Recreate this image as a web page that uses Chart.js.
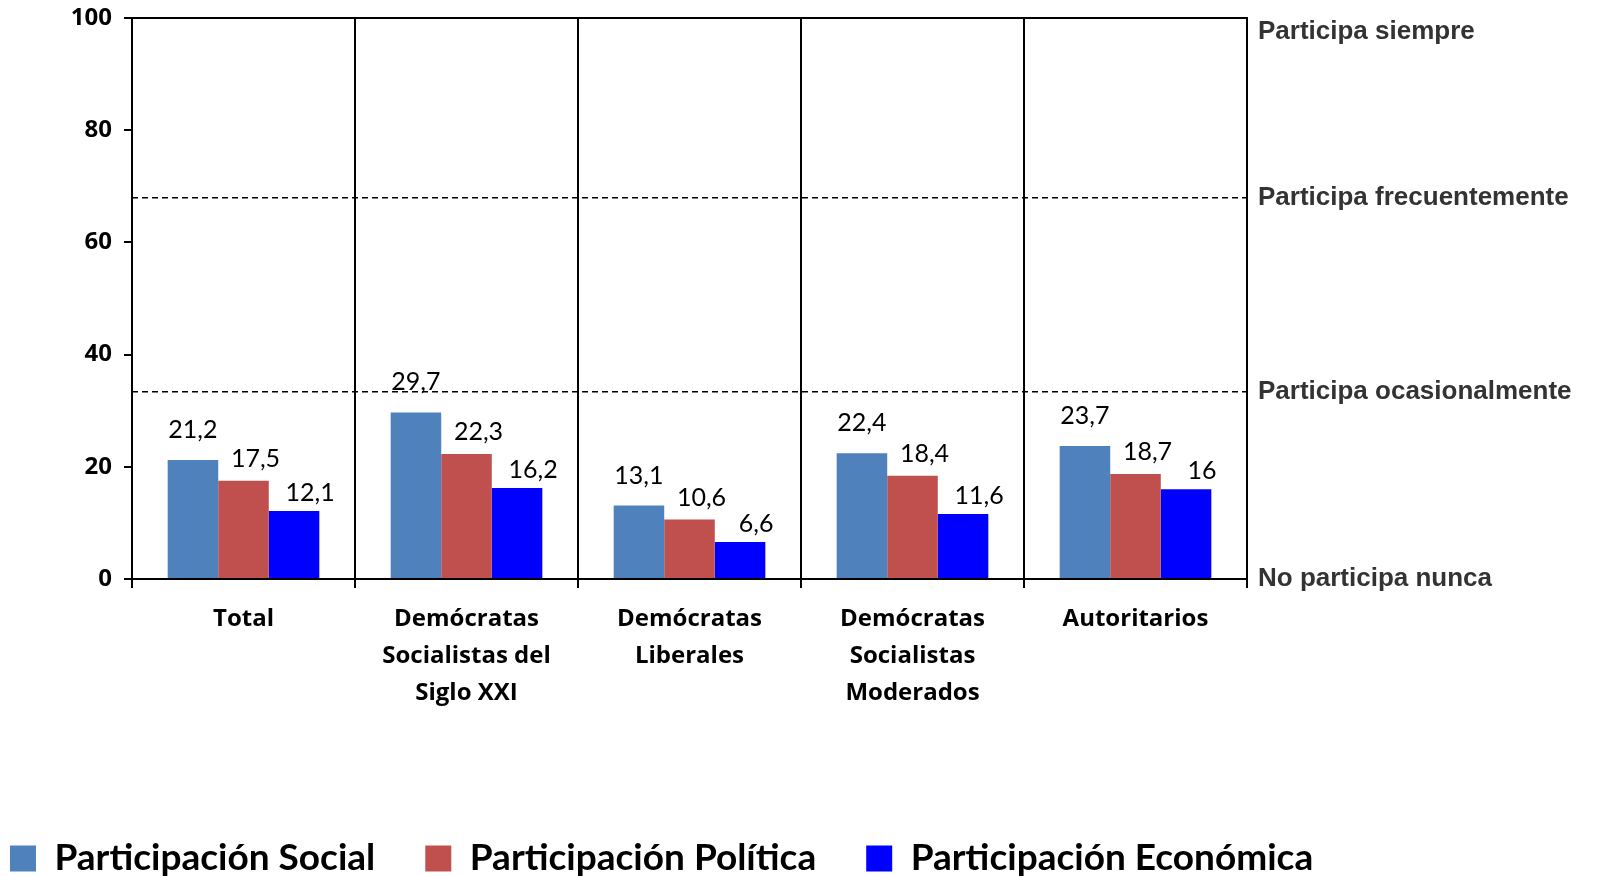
<!DOCTYPE html>
<html lang="es">
<head>
<meta charset="utf-8">
<title>Participación</title>
<script src="https://cdn.jsdelivr.net/npm/chart.js@4.4.1/dist/chart.umd.min.js"></script>
<style>
html,body{margin:0;padding:0;background:#fff;overflow:hidden}
canvas{display:block}
</style>
</head>
<body>
<canvas id="grafico" width="1599" height="887"></canvas>
<script>
const categorias=[['Total'],['Demócratas','Socialistas del','Siglo XXI'],['Demócratas','Liberales'],['Demócratas','Socialistas','Moderados'],['Autoritarios']]
const social=[21.2,29.7,13.1,22.4,23.7]
const politica=[17.5,22.3,10.6,18.4,18.7]
const economica=[12.1,16.2,6.6,11.6,16]
const nombresSeries=['Participación Social','Participación Política','Participación Económica']
const ticksY=[0,20,40,60,80,100]
const nivelesValor=[0,33.3,68,100]
const nivelesTexto=['No participa nunca','Participa ocasionalmente','Participa frecuentemente','Participa siempre']
// niveles que llevan linea punteada
const nivelesPunteados=[33.3,68]

const colores=['#4F81BD','#C0504D','#0000FF']
// corrimiento de cada serie para las etiquetas (como en el original)
const corrimientos=[[0,30],[12,22],[16,18]]

const etiquetasValores={
    id:'etiquetasValores',
    afterDatasetsDraw(chart){
        const ctx=chart.ctx
        ctx.save()
        ctx.font='25px Lato'
        ctx.fillStyle='#000'
        ctx.textAlign='center'
        ctx.textBaseline='middle'
        for(let s=0;s<3;s++){
            const meta=chart.getDatasetMeta(s)
            meta.data.forEach((barra,i)=>{
                const valor=chart.data.datasets[s].data[i]
                ctx.fillText(String(valor).replace('.',','),barra.x+corrimientos[s][0],barra.y-corrimientos[s][1])
            })
        }
        ctx.restore()
    }
}

const fuenteEje={family:'"Open Sans"',size:24,weight:'bold'}
const esPunteado=c=>c.tick&&nivelesPunteados.includes(c.tick.value)

// el texto del nivel maximo va un poco mas abajo, como en el original
function textoNivel(v,i){
    const texto=nivelesTexto[i]
    return i===nivelesTexto.length-1 ? ['',texto] : texto
}

new Chart(document.getElementById('grafico'),{
    type:'bar',
    data:{
        labels:categorias,
        datasets:[
            {label:nombresSeries[0],data:social,backgroundColor:colores[0]},
            {label:nombresSeries[1],data:politica,backgroundColor:colores[1]},
            {label:nombresSeries[2],data:economica,backgroundColor:colores[2]}
        ]
    },
    options:{
        responsive:false,
        animation:false,
        devicePixelRatio:1,
        datasets:{bar:{barPercentage:1,categoryPercentage:0.68}},
        layout:{padding:{top:18,left:-40,right:0,bottom:0}},
        plugins:{
            legend:{
                position:'bottom',
                align:'start',
                labels:{
                    boxWidth:26,
                    boxHeight:26,
                    padding:50,
                    color:'#000',
                    font:{family:'Lato',size:37,weight:'bold'}
                }
            },
            tooltip:{enabled:false}
        },
        scales:{
            x:{
                offset:true,
                grid:{display:true,offset:true,color:'#000',lineWidth:2,tickLength:9},
                border:{display:true,color:'#000',width:2},
                ticks:{color:'#000',font:{...fuenteEje,lineHeight:1.53},padding:13,maxRotation:0,autoSkip:false},
                afterFit(axis){
                    axis.height=axis.chart.height-579-axis.chart.legend.height
                }
            },
            y:{
                min:0,
                max:100,
                afterBuildTicks(axis){axis.ticks=ticksY.map(v=>({value:v}))},
                grid:{
                    color:c=>(c.tick&&c.tick.value===100)?'#000':'rgba(0,0,0,0)',
                    tickColor:'#000',
                    lineWidth:2,
                    tickLength:8
                },
                border:{display:true,color:'#000',width:2},
                ticks:{color:'#000',font:fuenteEje,padding:12},
                afterFit(axis){
                    axis.width=172
                    axis.paddingTop=0
                    axis.paddingBottom=0
                }
            },
            y2:{
                position:'right',
                min:0,
                max:100,
                afterBuildTicks(axis){axis.ticks=nivelesValor.map(v=>({value:v}))},
                grid:{
                    display:true,
                    drawTicks:false,
                    color:c=>esPunteado(c)?'#000':'rgba(0,0,0,0)',
                    lineWidth:1.5
                },
                border:{display:true,color:'#000',width:2,dash:[6,4]},
                ticks:{
                    color:'#333',
                    font:{family:'"Liberation Sans"',size:26,weight:'bold',lineHeight:1.1},
                    padding:11,
                    callback:textoNivel
                },
                afterFit(axis){
                    axis.width=352
                    axis.paddingTop=0
                    axis.paddingBottom=0
                }
            }
        }
    },
    plugins:[etiquetasValores]
})
</script>
</body>
</html>
